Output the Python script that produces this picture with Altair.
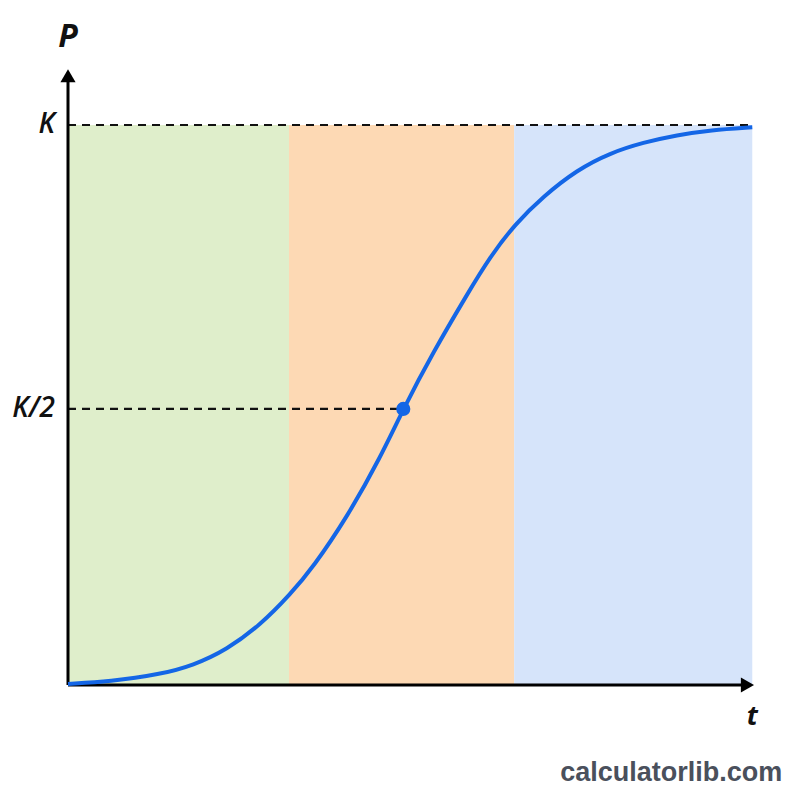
import altair as alt
import pandas as pd

# Logistic curve values (t in arbitrary units, P as fraction of K)
t_vals = [0.0, 0.61, 1.35, 1.83, 2.32, 2.81, 3.25, 3.58, 4.08, 4.56, 4.90, 5.34, 5.83,
          6.17, 6.54, 6.94, 7.44, 7.92, 8.41, 8.90, 9.39, 10.0]
p_vals = [0.002, 0.006, 0.019, 0.035, 0.063, 0.107, 0.162, 0.210, 0.300, 0.405, 0.493,
          0.595, 0.697, 0.765, 0.824, 0.872, 0.920, 0.950, 0.969, 0.982, 0.991, 0.996]

band_start = [0.0, 3.23, 6.52]
band_end = [3.23, 6.52, 10.0]
band_names = ["lag", "log", "stationary"]
band_colors = ["#dfeecb", "#fdd9b4", "#d6e4fa"]

K_value = 1.0
half_value = 0.493
half_t = 4.90

y_labels = ["K", "K/2"]
y_label_values = [K_value, half_value]

curve_color = "#1466e6"

X_DOM = [0, 10.04]
Y_DOM = [0, 1.1125]
xs = alt.Scale(domain=X_DOM, nice=False, zero=False)
ys = alt.Scale(domain=Y_DOM, nice=False, zero=False)

curve_df = pd.DataFrame({"t": t_vals, "P": p_vals})
band_df = pd.DataFrame({"x": band_start, "x2": band_end, "name": band_names,
                        "y": [0] * 3, "y2": [K_value] * 3})

bands = alt.Chart(band_df).mark_rect(opacity=1).encode(
    x=alt.X("x:Q", scale=xs, axis=None),
    x2="x2:Q",
    y=alt.Y("y:Q", scale=ys, axis=None),
    y2="y2:Q",
    color=alt.Color("name:N", scale=alt.Scale(domain=band_names, range=band_colors), legend=None),
)

dash_df = pd.DataFrame({"x": [0.0, 0.0], "x2": [10.0, half_t], "y": [K_value, half_value]})
dashes = alt.Chart(dash_df).mark_rule(color="#111111", strokeWidth=2.2, strokeDash=[8, 6]).encode(
    x=alt.X("x:Q", scale=xs, axis=None),
    x2="x2:Q",
    y=alt.Y("y:Q", scale=ys, axis=None),
)

axes_df = pd.DataFrame({"x": [0.0, 0.0], "x2": [0.0, 9.93], "y": [0.0, 0.0], "y2": [1.09, 0.0]})
axes = alt.Chart(axes_df).mark_rule(color="#000000", strokeWidth=3).encode(
    x=alt.X("x:Q", scale=xs, axis=None),
    x2="x2:Q",
    y=alt.Y("y:Q", scale=ys, axis=None),
    y2="y2:Q",
)

arrow_up = alt.Chart(pd.DataFrame({"x": [0.0], "y": [1.088]})).mark_point(
    shape="triangle-up", filled=True, color="#000000", size=230, opacity=1
).encode(x=alt.X("x:Q", scale=xs, axis=None), y=alt.Y("y:Q", scale=ys, axis=None))

arrow_right = alt.Chart(pd.DataFrame({"x": [9.93], "y": [0.0]})).mark_point(
    shape="triangle-right", filled=True, color="#000000", size=230, opacity=1
).encode(x=alt.X("x:Q", scale=xs, axis=None), y=alt.Y("y:Q", scale=ys, axis=None))

curve = alt.Chart(curve_df).mark_line(color=curve_color, strokeWidth=4, interpolate="basis").encode(
    x=alt.X("t:Q", scale=xs, axis=None),
    y=alt.Y("P:Q", scale=ys, axis=None),
)

mid = alt.Chart(pd.DataFrame({"t": [half_t], "P": [half_value]})).mark_circle(
    color=curve_color, size=200, opacity=1
).encode(x=alt.X("t:Q", scale=xs, axis=None), y=alt.Y("P:Q", scale=ys, axis=None))

ylab = alt.Chart(pd.DataFrame({"x": [-0.19, -0.19], "y": y_label_values, "label": y_labels})).mark_text(
    align="right", baseline="middle", font="Open Sans", fontStyle="italic", fontWeight=600,
    fontSize=28, color="#111111"
).encode(x=alt.X("x:Q", scale=xs, axis=None), y=alt.Y("y:Q", scale=ys, axis=None), text="label:N")

plab = alt.Chart(pd.DataFrame({"x": [0.0], "y": [1.157], "label": ["P"]})).mark_text(
    align="center", baseline="middle", font="Open Sans", fontStyle="italic", fontWeight="bold",
    fontSize=32, color="#111111"
).encode(x=alt.X("x:Q", scale=xs, axis=None), y=alt.Y("y:Q", scale=ys, axis=None), text="label:N")

tlab = alt.Chart(pd.DataFrame({"x": [10.0], "y": [-0.058], "label": ["t"]})).mark_text(
    align="center", baseline="middle", font="Open Sans", fontStyle="italic", fontWeight="bold",
    fontSize=27, color="#111111"
).encode(x=alt.X("x:Q", scale=xs, axis=None), y=alt.Y("y:Q", scale=ys, axis=None), text="label:N")

wm = alt.Chart(pd.DataFrame({"x": [10.44], "y": [-0.157], "label": ["calculatorlib.com"]})).mark_text(
    align="right", baseline="middle", font="Liberation Sans", fontWeight="bold",
    fontSize=27, color="#4a505c"
).encode(x=alt.X("x:Q", scale=xs, axis=None), y=alt.Y("y:Q", scale=ys, axis=None), text="label:N")

chart = alt.layer(bands, dashes, axes, arrow_up, arrow_right, curve, mid, ylab, plab, tlab, wm).properties(
    width=687, height=623,
    autosize=alt.AutoSizeParams(type="none"),
    padding={"left": 60, "top": 54, "right": 37, "bottom": 107},
    background="white",
).configure_view(stroke=None)

chart.save("out.html", embed_options={"renderer": "svg", "actions": False})
